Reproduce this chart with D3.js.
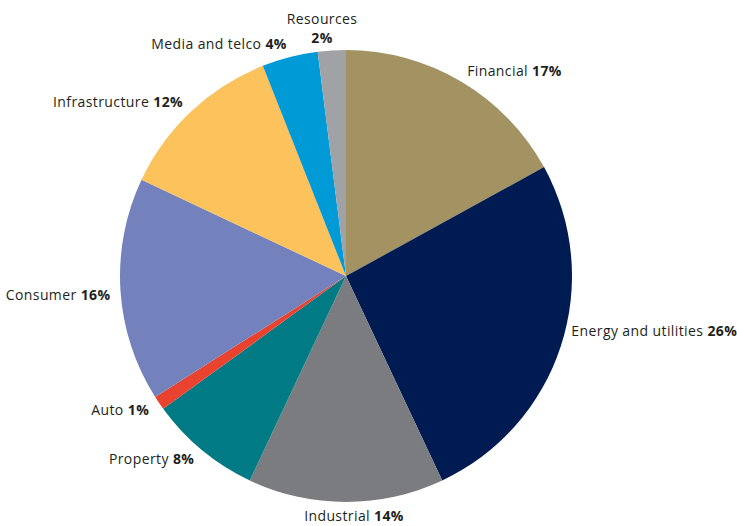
<!DOCTYPE html>
<html><head><meta charset="utf-8">
<script src="https://cdn.jsdelivr.net/npm/d3@7"></script>
<style>
html,body{margin:0;padding:0;background:#fff;}
svg text{font-family:"Open Sans",sans-serif;font-size:14px;letter-spacing:0.4px;fill:#231f20;}
</style></head>
<body>
<svg id="chart" width="737" height="526"></svg>
<script>
const categories = ["Financial","Energy and utilities","Industrial","Property","Auto","Consumer","Infrastructure","Media and telco","Resources"];
const values = [17,26,14,8,1,16,12,4,2];
const colors = ["#A39262","#001A52","#7B7C80","#007A85","#E9432F","#7381BD","#FCC25B","#009AD6","#A1A2A6"];

const W=737,H=526, cx=346, cy=276, R=226, LR=238;
const nudge = {"Energy and utilities":[-1,-18],"Industrial":[8,2],"Consumer":[2,4],"Resources":[-9,0],"Media and telco":[0,-1]};
const svg=d3.select("#chart");
const g=svg.append("g").attr("transform",`translate(${cx},${cy})`);
const data=categories.map((c,i)=>({cat:c,val:values[i],col:colors[i]}));
const pie=d3.pie().value(d=>d.val).sort(null);
const arcs=pie(data);
const arc=d3.arc().innerRadius(0).outerRadius(R);
g.selectAll("path").data(arcs).join("path").attr("d",arc).attr("fill",d=>d.data.col);

arcs.forEach(a=>{
  const m=(a.startAngle+a.endAngle)/2;
  const n=nudge[a.data.cat]||[0,0];
  let x=LR*Math.sin(m)+n[0], y=-LR*Math.cos(m)+n[1];
  const s=Math.sin(m);
  if(a.data.cat==="Resources"){
    const t=g.append("text").attr("text-anchor","middle");
    t.append("tspan").attr("x",x).attr("y",y-14).text(a.data.cat);
    t.append("tspan").attr("x",x).attr("y",y+5).attr("font-weight","bold").text(a.data.val+"%");
    return;
  }
  const anchor=Math.abs(s)<0.1?"middle":(s>0?"start":"end");
  const t=g.append("text").attr("x",x).attr("y",y).attr("dy","0.35em").attr("text-anchor",anchor);
  t.append("tspan").text(a.data.cat+" ");
  t.append("tspan").attr("font-weight","bold").text(a.data.val+"%");
});
</script>
</body></html>
